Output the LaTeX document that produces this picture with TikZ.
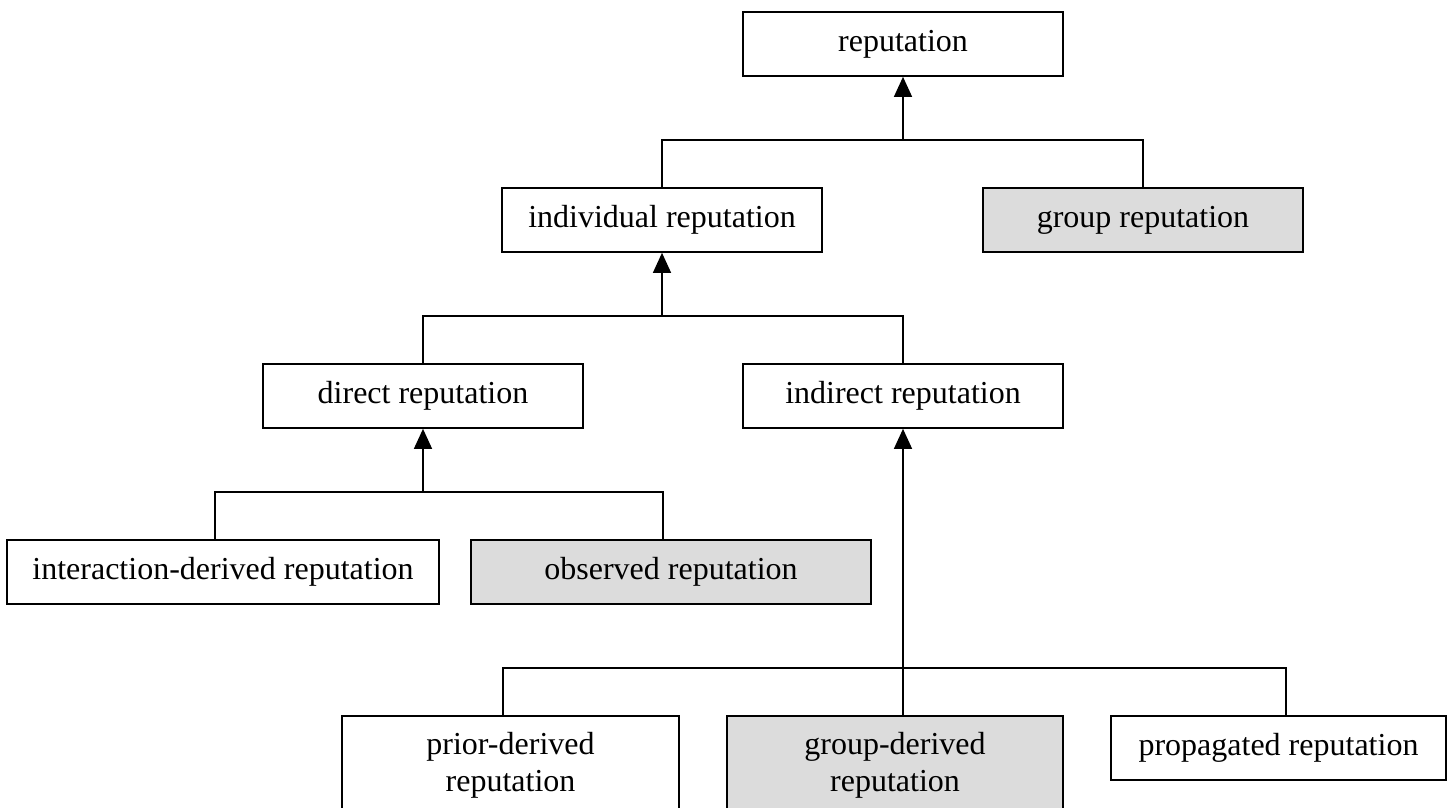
\documentclass[tikz,border=0pt]{standalone}
\usepackage{fontspec}
\setmainfont{Liberation Serif}
\usetikzlibrary{arrows.meta}
\definecolor{boxgray}{RGB}{220,220,220}
\begin{document}
\begin{tikzpicture}[x=1pt,y=-1pt,
  box/.style={draw=black, line width=1.7pt, fill=white, inner sep=0pt,
    minimum height=64pt, font=\fontsize{32}{37}\selectfont, align=center},
  grayfill/.style={fill=boxgray},
  tall/.style={minimum height=98pt},
  conn/.style={line width=1.4pt},
  arr/.style={conn, -{Triangle[length=20pt,width=18pt]}}]
\useasboundingbox (0,0) rectangle (1454,808);
\clip (0,0) rectangle (1454,808);
% nodes
\node[box, minimum width=320pt] (rep) at (903,44) {reputation};
\node[box, minimum width=320pt] (ind) at (662,220) {individual reputation};
\node[box, grayfill, minimum width=320pt] (grp) at (1143,220) {group reputation};
\node[box, minimum width=320pt] (dir) at (423,396) {direct reputation};
\node[box, minimum width=320pt] (indir) at (903,396) {indirect reputation};
\node[box, minimum width=432pt] (inter) at (223,572) {interaction-derived reputation};
\node[box, grayfill, minimum width=400pt] (obs) at (671,572) {observed reputation};
\node[box, tall, minimum width=337pt] (prior) at (510.5,765) {prior-derived\\reputation};
\node[box, tall, grayfill, minimum width=336pt] (gder) at (895,765) {group-derived\\reputation};
\node[box, minimum width=335pt] (prop) at (1278.5,748) {propagated reputation};
% junctions
\coordinate (j1) at (903,140);
\coordinate (j2) at (662,316);
\coordinate (j3) at (423,492);
\coordinate (j4) at (903,668);
% connectors
\draw[conn] (ind.north) |- (j1) -| (grp.north);
\draw[arr] (j1) -- (rep.south);
\draw[conn] (dir.north) |- (j2) -| (indir.north);
\draw[arr] (j2) -- (ind.south);
\draw[conn] ([xshift=-8pt]inter.north) |- (j3) -| ([xshift=-8pt]obs.north);
\draw[arr] (j3) -- (dir.south);
\draw[conn] ([xshift=-7.5pt]prior.north) |- (j4) -| ([xshift=7.5pt]prop.north);
\draw[arr] ([xshift=8pt]gder.north) -- (indir.south);
\end{tikzpicture}
\end{document}
